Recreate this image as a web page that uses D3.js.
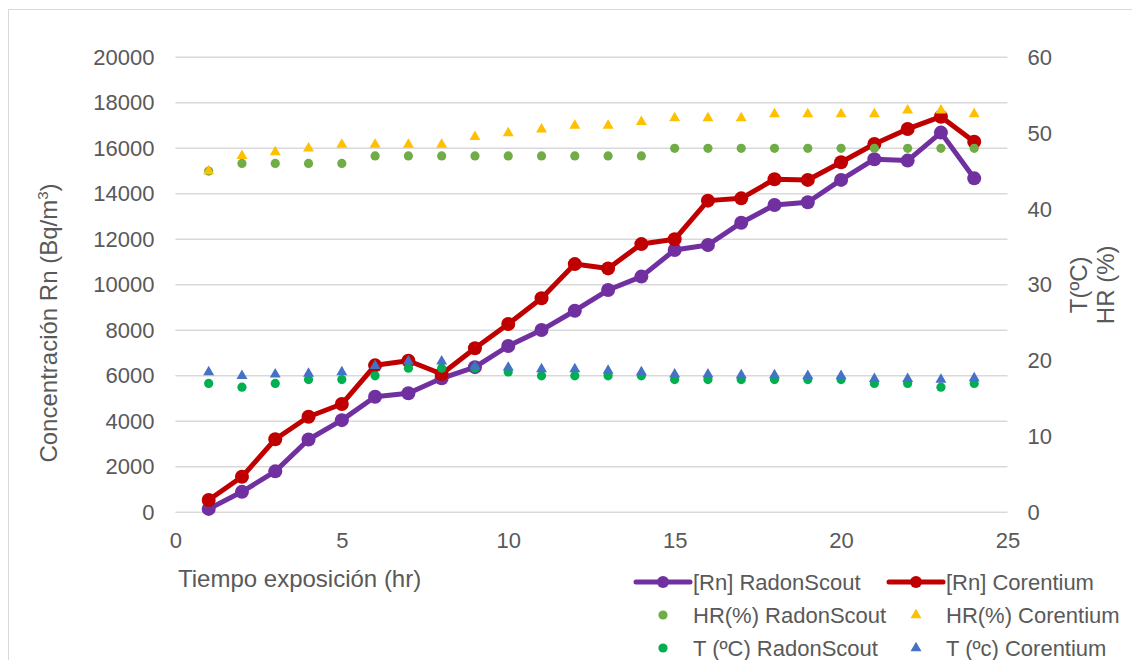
<!DOCTYPE html>
<html>
<head>
<meta charset="utf-8">
<script src="https://cdn.jsdelivr.net/npm/d3@7"></script>
<style>
  html, body { margin: 0; padding: 0; background: #fff; }
  svg { display: block; font-family: "Liberation Sans", Arial, sans-serif; }
</style>
</head>
<body>
<svg id="chart" width="1132" height="660"></svg>
<script>
// ---- Data ----
const hours = [1,2,3,4,5,6,7,8,9,10,11,12,13,14,15,16,17,18,19,20,21,22,23,24];
const rnRadonScout = [150, 900, 1800, 3200, 4050, 5080, 5230, 5890, 6380, 7310, 8010, 8860, 9770, 10360, 11530, 11750, 12730, 13510, 13630, 14610, 15520, 15460, 16690, 14680];
const rnCorentium = [540, 1560, 3210, 4200, 4760, 6460, 6660, 6080, 7210, 8280, 9410, 10910, 10720, 11790, 12000, 13700, 13800, 14640, 14610, 15390, 16190, 16850, 17390, 16290];
const hrRadonScout = [45, 46, 46, 46, 46, 47, 47, 47, 47, 47, 47, 47, 47, 47, 48, 48, 48, 48, 48, 48, 48, 48, 48, 48];
const hrCorentium = [45, 47, 47.5, 48, 48.5, 48.5, 48.5, 48.5, 49.5, 50, 50.5, 51, 51, 51.5, 52, 52, 52, 52.5, 52.5, 52.5, 52.5, 53, 53, 52.5];
const tRadonScout = [17, 16.5, 17, 17.5, 17.5, 18, 19, 19, 19, 18.5, 18, 18, 18, 18, 17.5, 17.5, 17.5, 17.5, 17.5, 17.5, 17, 17, 16.5, 17];
const tCorentium = [18.5, 18, 18.2, 18.3, 18.5, 19.3, 19.9, 19.9, 19.2, 19.1, 18.9, 18.9, 18.7, 18.5, 18.2, 18.2, 18.1, 18.1, 18, 18, 17.6, 17.6, 17.5, 17.7];

const xTicks = [0, 5, 10, 15, 20, 25];
const yLeftTicks = [0, 2000, 4000, 6000, 8000, 10000, 12000, 14000, 16000, 18000, 20000];
const yRightTicks = [0, 10, 20, 30, 40, 50, 60];

const xTitle = "Tiempo exposición (hr)";
const yLeftTitleMain = "Concentración Rn (Bq/m";
const yLeftTitleSup = "3";
const yLeftTitleEnd = ")";
const yRightTitle = ["T(ºC)", "HR (%)"];

const series = [
  { name: "[Rn] RadonScout", values: rnRadonScout, axis: "L", type: "line", color: "#7030A0" },
  { name: "[Rn] Corentium", values: rnCorentium, axis: "L", type: "line", color: "#C00000" },
  { name: "HR(%) RadonScout", values: hrRadonScout, axis: "R", type: "circle", color: "#70AD47" },
  { name: "HR(%) Corentium", values: hrCorentium, axis: "R", type: "triangle", color: "#FFC000" },
  { name: "T (ºC) RadonScout", values: tRadonScout, axis: "R", type: "circle", color: "#00B050" },
  { name: "T (ºc) Corentium", values: tCorentium, axis: "R", type: "triangle", color: "#4472C4" }
];

// ---- Layout ----
const svg = d3.select("#chart");
const plot = { left: 175.4, right: 1007.5, top: 57.3, bottom: 512.3 };
const textColor = "#595959";
const gridColor = "#D9D9D9";
const tickFont = "22px";
const titleFont = "24px";
const yTitleFont = "24px";
const legendFont = "22px";

const x = d3.scaleLinear().domain([0, 25]).range([plot.left, plot.right]);
const yL = d3.scaleLinear().domain([0, 20000]).range([plot.bottom, plot.top]);
const yR = d3.scaleLinear().domain([0, 60]).range([plot.bottom, plot.top]);

// chart border
svg.append("rect").attr("x", 8.5).attr("y", 9.5).attr("width", 1140).attr("height", 680)
  .attr("fill", "#fff").attr("stroke", gridColor).attr("stroke-width", 1);

// gridlines
svg.append("g").selectAll("line").data(yLeftTicks).join("line")
  .attr("x1", plot.left).attr("x2", plot.right)
  .attr("y1", d => yL(d)).attr("y2", d => yL(d))
  .attr("stroke", gridColor).attr("stroke-width", 1.5);

function styleAxis(ax) {
  ax.select(".domain").remove();
  ax.selectAll("text").attr("fill", textColor).style("font-size", tickFont)
    .style("font-family", "'Liberation Sans', Arial, sans-serif");
}

// left axis
const axL = svg.append("g").attr("transform", `translate(${plot.left},0)`)
  .call(d3.axisLeft(yL).tickValues(yLeftTicks).tickSize(0).tickPadding(21).tickFormat(d3.format("d")));
styleAxis(axL);

// right axis
const axR = svg.append("g").attr("transform", `translate(${plot.right},0)`)
  .call(d3.axisRight(yR).tickValues(yRightTicks).tickSize(0).tickPadding(20).tickFormat(d3.format("d")));
styleAxis(axR);

// bottom axis
const axB = svg.append("g").attr("transform", `translate(0,${plot.bottom})`)
  .call(d3.axisBottom(x).tickValues(xTicks).tickSize(0).tickPadding(20).tickFormat(d3.format("d")));
styleAxis(axB);

// axis titles
svg.append("text").attr("x", 178).attr("y", 587).attr("fill", textColor)
  .style("font-size", titleFont).text(xTitle);

const lt = svg.append("text").attr("transform", `translate(57,323) rotate(-90)`)
  .attr("text-anchor", "middle").attr("fill", textColor).style("font-size", yTitleFont);
lt.append("tspan").text(yLeftTitleMain);
lt.append("tspan").attr("dy", -9).style("font-size", "15px").text(yLeftTitleSup);
lt.append("tspan").attr("dy", 9).text(yLeftTitleEnd);

const rt = svg.append("text").attr("transform", `translate(1087,${(plot.top + plot.bottom) / 2}) rotate(-90)`)
  .attr("text-anchor", "middle").attr("fill", textColor).style("font-size", titleFont);
yRightTitle.forEach((t, i) => rt.append("tspan").attr("x", 0).attr("dy", i === 0 ? 0 : 27).text(t));

// ---- Marks ----
const triangle = d3.symbol().type(d3.symbolTriangle).size(52);

series.forEach(s => {
  const y = s.axis === "L" ? yL : yR;
  const pts = hours.map((h, i) => [h, s.values[i]]);
  const g = svg.append("g");
  if (s.type === "line") {
    g.append("path").datum(pts)
      .attr("d", d3.line().x(d => x(d[0])).y(d => y(d[1])))
      .attr("fill", "none").attr("stroke", s.color).attr("stroke-width", 5)
      .attr("stroke-linejoin", "round").attr("stroke-linecap", "round");
    g.selectAll("circle").data(pts).join("circle")
      .attr("cx", d => x(d[0])).attr("cy", d => y(d[1])).attr("r", 7)
      .attr("fill", s.color);
  } else if (s.type === "circle") {
    g.selectAll("circle").data(pts).join("circle")
      .attr("cx", d => x(d[0])).attr("cy", d => y(d[1])).attr("r", 4.6)
      .attr("fill", s.color);
  } else {
    g.selectAll("path").data(pts).join("path")
      .attr("transform", d => `translate(${x(d[0])},${y(d[1])})`)
      .attr("d", triangle).attr("fill", s.color);
  }
});

// ---- Legend ----
const legend = svg.append("g");
const legCols = [636, 889];
const legRows = [582, 615, 648];
series.forEach((s, i) => {
  const cx = legCols[i % 2];
  const cy = legRows[Math.floor(i / 2)];
  const g = legend.append("g");
  const mx = cx + 27;
  if (s.type === "line") {
    g.append("line").attr("x1", cx).attr("x2", cx + 54).attr("y1", cy).attr("y2", cy)
      .attr("stroke", s.color).attr("stroke-width", 5).attr("stroke-linecap", "round");
    g.append("circle").attr("cx", mx).attr("cy", cy).attr("r", 6).attr("fill", s.color);
  } else if (s.type === "circle") {
    g.append("circle").attr("cx", mx).attr("cy", cy).attr("r", 4.6).attr("fill", s.color);
  } else {
    g.append("path").attr("transform", `translate(${mx},${cy})`).attr("d", triangle).attr("fill", s.color);
  }
  g.append("text").attr("x", cx + 57).attr("y", cy + 8).attr("fill", textColor)
    .style("font-size", legendFont).text(s.name);
});
</script>
</body>
</html>
